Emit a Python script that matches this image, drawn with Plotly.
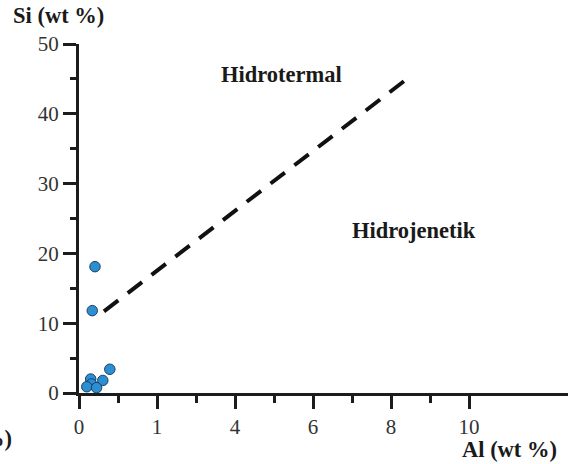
import plotly.graph_objects as go

# Data
al_values = [0.41, 0.34, 0.79, 0.61, 0.30, 0.32, 0.20, 0.45]
si_values = [18.1, 11.8, 3.4, 1.8, 2.0, 1.3, 0.9, 0.76]
boundary_al = [0.64, 8.41]
boundary_si = [11.7, 45.0]
x_tickvals = [0, 2, 4, 6, 8, 10]
x_ticktext = ["0", "1", "4", "6", "8", "10"]
x_minor = [1, 3, 5, 7, 9]
y_tickvals = [0, 10, 20, 30, 40, 50]
y_minor = [5, 15, 25, 35, 45]

W, H = 568, 464
L, R, T, B = 79, 0, 44, 71
AXC = "#1c1c1c"
FONT = "Liberation Serif"

fig = go.Figure()
fig.add_trace(go.Scatter(
    x=boundary_al, y=boundary_si, mode="lines",
    line=dict(color="#111111", width=4, dash="18px,12px"),
    hoverinfo="skip", showlegend=False, cliponaxis=False))
fig.add_trace(go.Scatter(
    x=al_values, y=si_values, mode="markers",
    marker=dict(size=10.5, color="#2b8fd2", line=dict(color="#1d3f66", width=1)),
    showlegend=False, cliponaxis=False))

fig.update_layout(
    width=W, height=H, margin=dict(l=L, r=R, t=T, b=B),
    plot_bgcolor="white", paper_bgcolor="white",
    font=dict(family=FONT, size=17, color="#333333"),
    xaxis=dict(range=[0, (W - L) / 39.0], showgrid=False, zeroline=False,
               showline=True, linewidth=3, linecolor=AXC,
               tickvals=x_tickvals, ticktext=x_ticktext,
               ticks="outside", ticklen=13, tickwidth=3, tickcolor=AXC,
               minor=dict(tickvals=x_minor, ticks="outside", ticklen=7,
                          tickwidth=3, tickcolor=AXC),
               ticklabelstandoff=0,
               tickfont=dict(family=FONT, size=21, color="#333333")),
    yaxis=dict(range=[0, 50], showgrid=False, zeroline=False,
               showline=True, linewidth=3, linecolor=AXC,
               tickvals=y_tickvals,
               ticks="outside", ticklen=13, tickwidth=3, tickcolor=AXC,
               minor=dict(tickvals=y_minor, ticks="outside", ticklen=6,
                          tickwidth=3, tickcolor=AXC),
               ticklabelstandoff=0,
               tickfont=dict(family=FONT, size=21, color="#333333")),
)

ann = dict(xref="paper", yref="paper", showarrow=False,
           font=dict(family=FONT, size=22.5, color="#1a1a1a"))

def px_x(px):
    return (px - L) / (W - L - R)

def px_y(py):
    return (H - B - py) / (H - T - B)

fig.add_annotation(text="<b>Si (wt %)</b>", x=px_x(11), y=px_y(16),
                   xanchor="left", yanchor="middle", **ann)
fig.add_annotation(text="<b>Al (wt %)</b>", x=px_x(559), y=px_y(449),
                   xanchor="right", yanchor="middle", **ann)
fig.add_annotation(text="<b>%)</b>", x=px_x(14), y=px_y(438),
                   xanchor="right", yanchor="middle", **ann)
fig.add_annotation(text="<b>Hidrotermal</b>", x=px_x(281), y=px_y(74),
                   xanchor="center", yanchor="middle", **ann)
fig.add_annotation(text="<b>Hidrojenetik</b>", x=px_x(414), y=px_y(230),
                   xanchor="center", yanchor="middle", **ann)

fig.write_html("out.html")
